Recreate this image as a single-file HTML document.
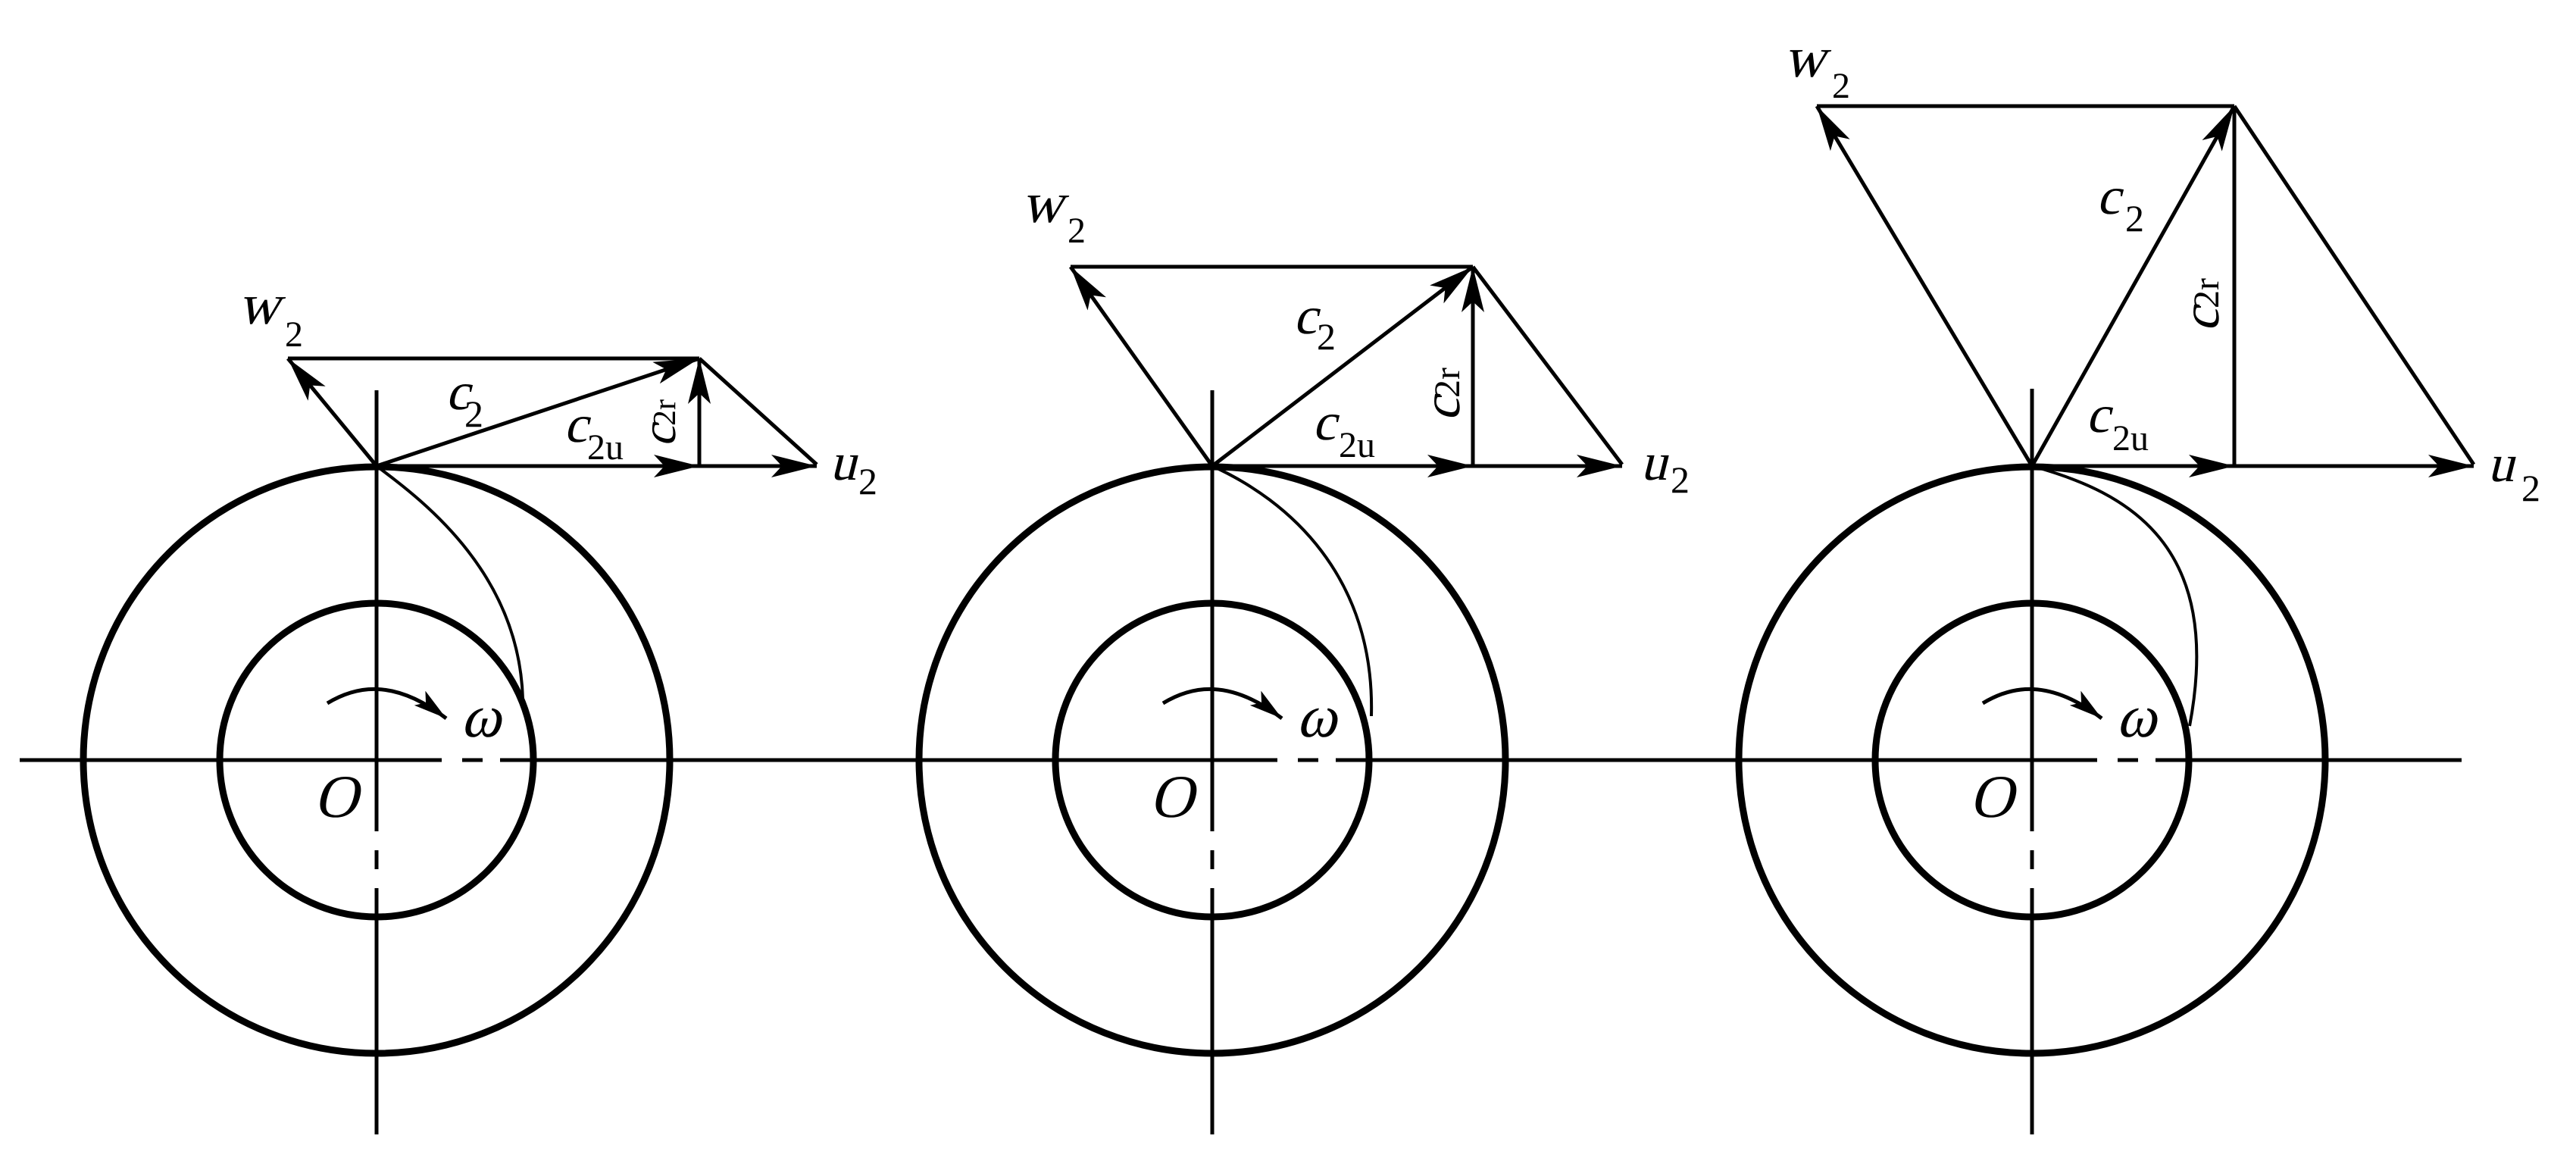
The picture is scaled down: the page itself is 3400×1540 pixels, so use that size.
<!DOCTYPE html>
<html><head><meta charset="utf-8">
<style>
html,body{margin:0;padding:0;background:#fff;}
svg{display:block;}
text{font-family:"Liberation Serif","DejaVu Serif",serif;fill:#000;}
</style></head>
<body>
<svg width="3400" height="1540" viewBox="0 0 3400 1540" xmlns="http://www.w3.org/2000/svg">
<defs>
<marker id="ah" markerUnits="userSpaceOnUse" markerWidth="70" markerHeight="40" refX="60" refY="15" orient="auto">
<path d="M0,0 L60,15 L0,30 L14,15 Z" fill="#000"/>
</marker>
<marker id="ah2" markerUnits="userSpaceOnUse" markerWidth="50" markerHeight="40" refX="44" refY="12" orient="auto">
<path d="M0,0 L44,12 L0,24 L10,12 Z" fill="#000"/>
</marker>
</defs>

<g stroke="#000" stroke-width="5" fill="none">
<line x1="26" y1="1003" x2="583" y2="1003"/>
<line x1="610" y1="1003" x2="637" y2="1003"/>
<line x1="660" y1="1003" x2="1686" y2="1003"/>
<line x1="1713" y1="1003" x2="1740" y2="1003"/>
<line x1="1763" y1="1003" x2="2768" y2="1003"/>
<line x1="2795" y1="1003" x2="2822" y2="1003"/>
<line x1="2845" y1="1003" x2="3249" y2="1003"/>
</g>

<!-- Figure 1 -->
<g stroke="#000" fill="none">
<circle cx="497" cy="1003" r="387" stroke-width="9"/>
<circle cx="497" cy="1003" r="207" stroke-width="9"/>
<line x1="497" y1="515" x2="497" y2="1097" stroke-width="5"/>
<line x1="497" y1="1122" x2="497" y2="1147" stroke-width="5"/>
<line x1="497" y1="1172" x2="497" y2="1497" stroke-width="5"/>
<path d="M497,615 C565,665 685,760 690,922" stroke-width="4"/>
<path d="M432,928 C470,905 520,895 589,948" stroke-width="5" marker-end="url(#ah2)"/>
<line x1="380" y1="473" x2="923" y2="473" stroke-width="5"/>
<line x1="923" y1="473" x2="1078" y2="613" stroke-width="5"/>
<line x1="497" y1="615" x2="380" y2="473" stroke-width="5" marker-end="url(#ah)"/>
<line x1="497" y1="615" x2="923" y2="473" stroke-width="5" marker-end="url(#ah)"/>
<line x1="923" y1="615" x2="923" y2="473" stroke-width="5" marker-end="url(#ah)"/>
<line x1="497" y1="615" x2="923" y2="615" stroke-width="5" marker-end="url(#ah)"/>
<line x1="923" y1="615" x2="1078" y2="615" stroke-width="5" marker-end="url(#ah)"/>
</g>
<g transform="translate(314,427)"><text transform="skewX(-14)" font-size="76">w</text><text x="62" y="30" font-size="48">2</text></g>
<g transform="translate(588,540)"><text transform="skewX(-14)" font-size="70">c</text><text x="25" y="23" font-size="50">2</text></g>
<g transform="translate(744,583)"><text transform="skewX(-14)" font-size="70">c</text><text x="31" y="23" font-size="48">2u</text></g>
<g transform="translate(891,590) rotate(-90)"><text transform="skewX(-14)" font-size="64">c</text><text x="28" y="0" font-size="42">2r</text></g>
<g transform="translate(1095,633)"><text transform="skewX(-14)" font-size="70">u</text><text x="38" y="19" font-size="50">2</text></g>
<g transform="translate(608,972)"><text transform="skewX(-14)" font-size="80">ω</text></g>
<g transform="translate(414,1078)"><text transform="skewX(-14)" font-size="80">O</text></g>

<!-- Figure 2 -->
<g stroke="#000" fill="none">
<circle cx="1600" cy="1003" r="387" stroke-width="9"/>
<circle cx="1600" cy="1003" r="207" stroke-width="9"/>
<line x1="1600" y1="515" x2="1600" y2="1097" stroke-width="5"/>
<line x1="1600" y1="1122" x2="1600" y2="1147" stroke-width="5"/>
<line x1="1600" y1="1172" x2="1600" y2="1497" stroke-width="5"/>
<path d="M1600,615 C1700,660 1815,760 1810,945" stroke-width="4"/>
<path d="M1535,928 C1573,905 1623,895 1692,948" stroke-width="5" marker-end="url(#ah2)"/>
<line x1="1413" y1="352" x2="1944" y2="352" stroke-width="5"/>
<line x1="1944" y1="352" x2="2141" y2="613" stroke-width="5"/>
<line x1="1600" y1="615" x2="1413" y2="352" stroke-width="5" marker-end="url(#ah)"/>
<line x1="1600" y1="615" x2="1944" y2="352" stroke-width="5" marker-end="url(#ah)"/>
<line x1="1944" y1="615" x2="1944" y2="352" stroke-width="5" marker-end="url(#ah)"/>
<line x1="1600" y1="615" x2="1944" y2="615" stroke-width="5" marker-end="url(#ah)"/>
<line x1="1944" y1="615" x2="2141" y2="615" stroke-width="5" marker-end="url(#ah)"/>
</g>
<g transform="translate(1348,293)"><text transform="skewX(-14)" font-size="76">w</text><text x="61" y="27" font-size="48">2</text></g>
<g transform="translate(1707,440)"><text transform="skewX(-14)" font-size="70">c</text><text x="31" y="21" font-size="50">2</text></g>
<g transform="translate(1732,580)"><text transform="skewX(-14)" font-size="70">c</text><text x="35" y="23" font-size="48">2u</text></g>
<g transform="translate(1926,556) rotate(-90)"><text transform="skewX(-14)" font-size="70">c</text><text x="31" y="0" font-size="48">2r</text></g>
<g transform="translate(2165,633)"><text transform="skewX(-14)" font-size="70">u</text><text x="40" y="17" font-size="50">2</text></g>
<g transform="translate(1711,972)"><text transform="skewX(-14)" font-size="80">ω</text></g>
<g transform="translate(1517,1078)"><text transform="skewX(-14)" font-size="80">O</text></g>

<!-- Figure 3 -->
<g stroke="#000" fill="none">
<circle cx="2682" cy="1003" r="387" stroke-width="9"/>
<circle cx="2682" cy="1003" r="207" stroke-width="9"/>
<line x1="2682" y1="513" x2="2682" y2="1097" stroke-width="5"/>
<line x1="2682" y1="1122" x2="2682" y2="1147" stroke-width="5"/>
<line x1="2682" y1="1172" x2="2682" y2="1497" stroke-width="5"/>
<path d="M2682,615 C2810,650 2935,720 2890,958" stroke-width="4"/>
<path d="M2617,928 C2655,905 2705,895 2774,948" stroke-width="5" marker-end="url(#ah2)"/>
<line x1="2398" y1="140" x2="2949" y2="140" stroke-width="5"/>
<line x1="2949" y1="140" x2="3265" y2="613" stroke-width="5"/>
<line x1="2682" y1="615" x2="2398" y2="140" stroke-width="5" marker-end="url(#ah)"/>
<line x1="2682" y1="615" x2="2949" y2="140" stroke-width="5" marker-end="url(#ah)"/>
<line x1="2949" y1="615" x2="2949" y2="140" stroke-width="5"/>
<line x1="2682" y1="615" x2="2949" y2="615" stroke-width="5" marker-end="url(#ah)"/>
<line x1="2949" y1="615" x2="3265" y2="615" stroke-width="5" marker-end="url(#ah)"/>
</g>
<g transform="translate(2354,101)"><text transform="skewX(-14)" font-size="76">w</text><text x="64" y="28" font-size="48">2</text></g>
<g transform="translate(2767,282)"><text transform="skewX(-14)" font-size="70">c</text><text x="38" y="23" font-size="50">2</text></g>
<g transform="translate(2753,570)"><text transform="skewX(-14)" font-size="70">c</text><text x="35" y="24" font-size="48">2u</text></g>
<g transform="translate(2928,438) rotate(-90)"><text transform="skewX(-14)" font-size="70">c</text><text x="31" y="0" font-size="48">2r</text></g>
<g transform="translate(3283,635)"><text transform="skewX(-14)" font-size="70">u</text><text x="45" y="26" font-size="50">2</text></g>
<g transform="translate(2793,972)"><text transform="skewX(-14)" font-size="80">ω</text></g>
<g transform="translate(2599,1078)"><text transform="skewX(-14)" font-size="80">O</text></g>
</svg>
</body></html>
